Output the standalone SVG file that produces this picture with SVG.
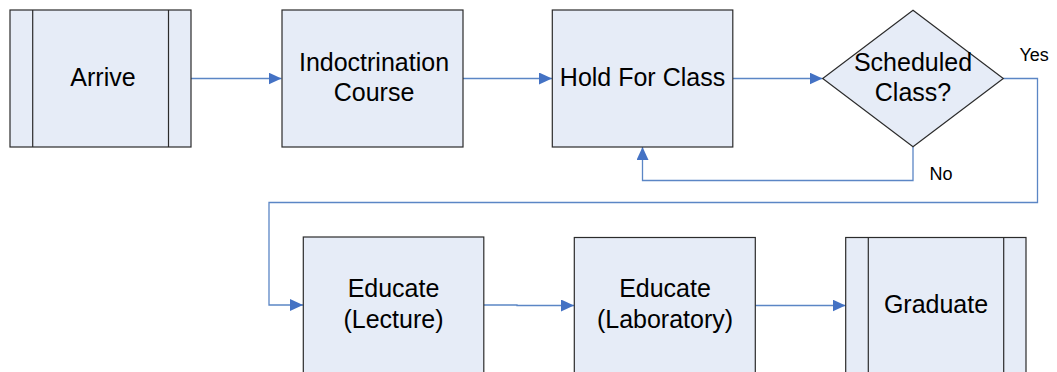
<svg xmlns="http://www.w3.org/2000/svg" width="1057" height="372" viewBox="0 0 1057 372">
  <style>
    .box { fill: #E6ECF7; stroke: #2b2b2b; stroke-width: 1.2; }
    .bar { fill: none; stroke: #2b2b2b; stroke-width: 1.2; }
    .lbl { font-family: "Liberation Sans", Arial, sans-serif; font-size: 25px; fill: #000; text-anchor: middle; }
    .small { font-family: "Liberation Sans", Arial, sans-serif; font-size: 18px; fill: #000; }
    .conn { fill: none; stroke: #5B86C5; stroke-width: 1.3; }
  </style>
  <defs>
    <marker id="arrow" viewBox="0 0 13 12" refX="13" refY="6" markerWidth="13" markerHeight="12" markerUnits="userSpaceOnUse" orient="auto">
      <path d="M0,0 L13,6 L0,12 Z" fill="#4472C4"/>
    </marker>
  </defs>
  <rect width="1057" height="372" fill="#ffffff"/>

  <g id="connectors">
    <path class="conn" marker-end="url(#arrow)" d="M191,78.5 H281.5"/>
    <path class="conn" marker-end="url(#arrow)" d="M463,78.5 H552"/>
    <path class="conn" marker-end="url(#arrow)" d="M733,78.5 H822.5"/>
    <path class="conn" marker-end="url(#arrow)" d="M913,147 V180.5 H642.5 V147"/>
    <path class="conn" marker-end="url(#arrow)" d="M1003,78.5 H1037.5 V202.5 H269 V305 H303"/>
    <path class="conn" marker-end="url(#arrow)" d="M484,305 H517 V305.5 H574"/>
    <path class="conn" marker-end="url(#arrow)" d="M755,305.5 H845.5"/>
  </g>

  <g id="arrive">
    <rect class="box" x="10" y="10" width="181" height="137"/>
    <line class="bar" x1="32.7" y1="10" x2="32.7" y2="147"/>
    <line class="bar" x1="168.5" y1="10" x2="168.5" y2="147"/>
    <text class="lbl" x="103" y="86">Arrive</text>
  </g>

  <g id="indoctrination">
    <rect class="box" x="282" y="10" width="181" height="137"/>
    <text class="lbl" x="374" y="71">Indoctrination</text>
    <text class="lbl" x="374" y="101">Course</text>
  </g>

  <g id="hold">
    <rect class="box" x="552.3" y="10" width="180.5" height="137"/>
    <text class="lbl" x="642.5" y="86">Hold For Class</text>
  </g>

  <g id="scheduled">
    <polygon class="box" points="913,10.3 1003.3,78.5 913,146.7 822.7,78.5"/>
    <text class="lbl" x="913" y="71">Scheduled</text>
    <text class="lbl" x="913" y="101">Class?</text>
  </g>
  <text class="small" x="1019.5" y="61">Yes</text>
  <text class="small" x="929.5" y="180">No</text>

  <g id="lecture">
    <rect class="box" x="303.3" y="237" width="180.5" height="140"/>
    <text class="lbl" x="393.5" y="297.3">Educate</text>
    <text class="lbl" x="393.5" y="327.7">(Lecture)</text>
  </g>

  <g id="laboratory">
    <rect class="box" x="574.3" y="237.5" width="181" height="140"/>
    <text class="lbl" x="665" y="297.3">Educate</text>
    <text class="lbl" x="665" y="327.7">(Laboratory)</text>
  </g>

  <g id="graduate">
    <rect class="box" x="845.7" y="237.5" width="180.3" height="140"/>
    <line class="bar" x1="868.3" y1="237.5" x2="868.3" y2="377.5"/>
    <line class="bar" x1="1003.7" y1="237.5" x2="1003.7" y2="377.5"/>
    <text class="lbl" x="936" y="313.3">Graduate</text>
  </g>
</svg>
